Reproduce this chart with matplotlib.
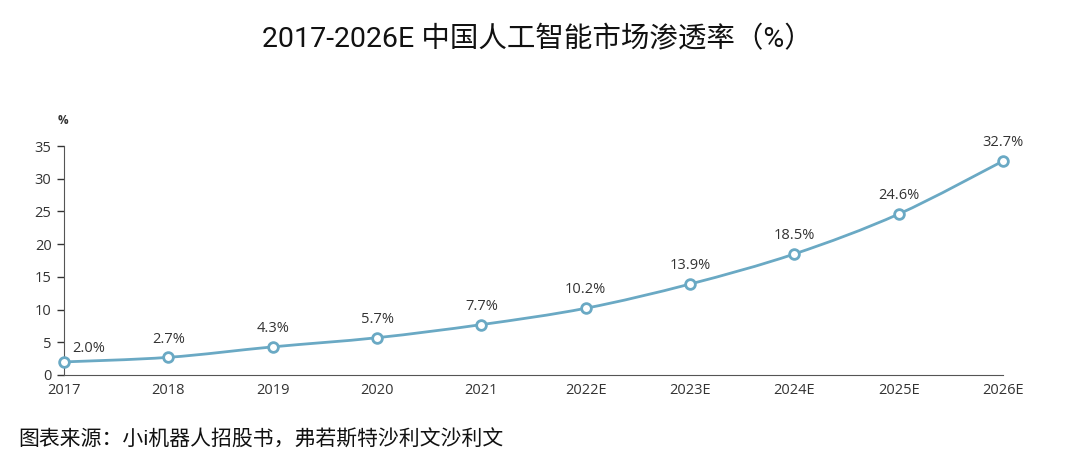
import numpy as np
import matplotlib.pyplot as plt
from matplotlib.path import Path
from matplotlib.patches import PathPatch

plt.rcParams['font.family'] = ['Open Sans', 'Noto Sans CJK SC', 'DejaVu Sans']

# 数据
years = ['2017', '2018', '2019', '2020', '2021', '2022E', '2023E', '2024E', '2025E', '2026E']
rate = [2.0, 2.7, 4.3, 5.7, 7.7, 10.2, 13.9, 18.5, 24.6, 32.7]
labels = ['2.0%', '2.7%', '4.3%', '5.7%', '7.7%', '10.2%', '13.9%', '18.5%', '24.6%', '32.7%']

line_c = '#6aa9c4'
text_c = '#333333'

fig = plt.figure(figsize=(10.8, 4.62), dpi=100)
ax = fig.add_axes([64/1080, 1-375/462, (1003-64)/1080, (375-146)/462])

x = np.arange(len(years))
y = np.array(rate)

# 平滑曲线 (Catmull-Rom -> Bezier)
verts = [(x[0], y[0])]
codes = [Path.MOVETO]
for i in range(len(x)-1):
    p0 = (x[max(i-1, 0)], y[max(i-1, 0)])
    p1 = (x[i], y[i])
    p2 = (x[i+1], y[i+1])
    p3 = (x[min(i+2, len(x)-1)], y[min(i+2, len(x)-1)])
    c1 = (p1[0] + (p2[0]-p0[0])/6, p1[1] + (p2[1]-p0[1])/6)
    c2 = (p2[0] - (p3[0]-p1[0])/6, p2[1] - (p3[1]-p1[1])/6)
    verts += [c1, c2, p2]
    codes += [Path.CURVE4]*3
ax.add_patch(PathPatch(Path(verts, codes), facecolor='none', edgecolor=line_c, lw=2, clip_on=False, zorder=2))
ax.plot(x, y, 'o', ms=7, mfc='white', mec=line_c, mew=2, clip_on=False, zorder=3)

for i, (xi, yi) in enumerate(zip(x, y)):
    if i == 0:
        ax.text(xi+0.08, yi+2.0, labels[i], ha='left', va='center', fontsize=10.5, color=text_c)
    else:
        ax.text(xi, yi+2.8, labels[i], ha='center', va='center', fontsize=10.5, color=text_c)

ax.set_xlim(0, len(x)-1)
ax.set_ylim(0, 35)
ax.set_yticks(range(0, 36, 5))
ax.set_xticks(x)
ax.set_xticklabels(years)
ax.tick_params(axis='x', length=0, pad=6, labelsize=10.5, colors=text_c)
ax.tick_params(axis='y', length=5, width=1, direction='out', pad=4, labelsize=10.5, colors=text_c)
for s in ['top', 'right']:
    ax.spines[s].set_visible(False)
ax.spines['left'].set_color('#555555')
ax.spines['bottom'].set_color('#555555')

fig.text(63/1080, 1-120/462, '%', ha='center', va='center', fontsize=8.5, fontweight='bold', color=text_c)
fig.text(537/1080, 1-40/462, '2017-2026E 中国人工智能市场渗透率（%）', ha='center', va='center', fontsize=20.5,
         color='#111111', family=['Roboto', 'Noto Sans CJK SC'])
fig.text(18/1080, 1-440/462, '图表来源：小i机器人招股书，弗若斯特沙利文沙利文', ha='left', va='center', fontsize=15,
         color='#111111', family=['Roboto', 'Noto Sans CJK SC'])

fig.savefig('out.png', dpi=100)
